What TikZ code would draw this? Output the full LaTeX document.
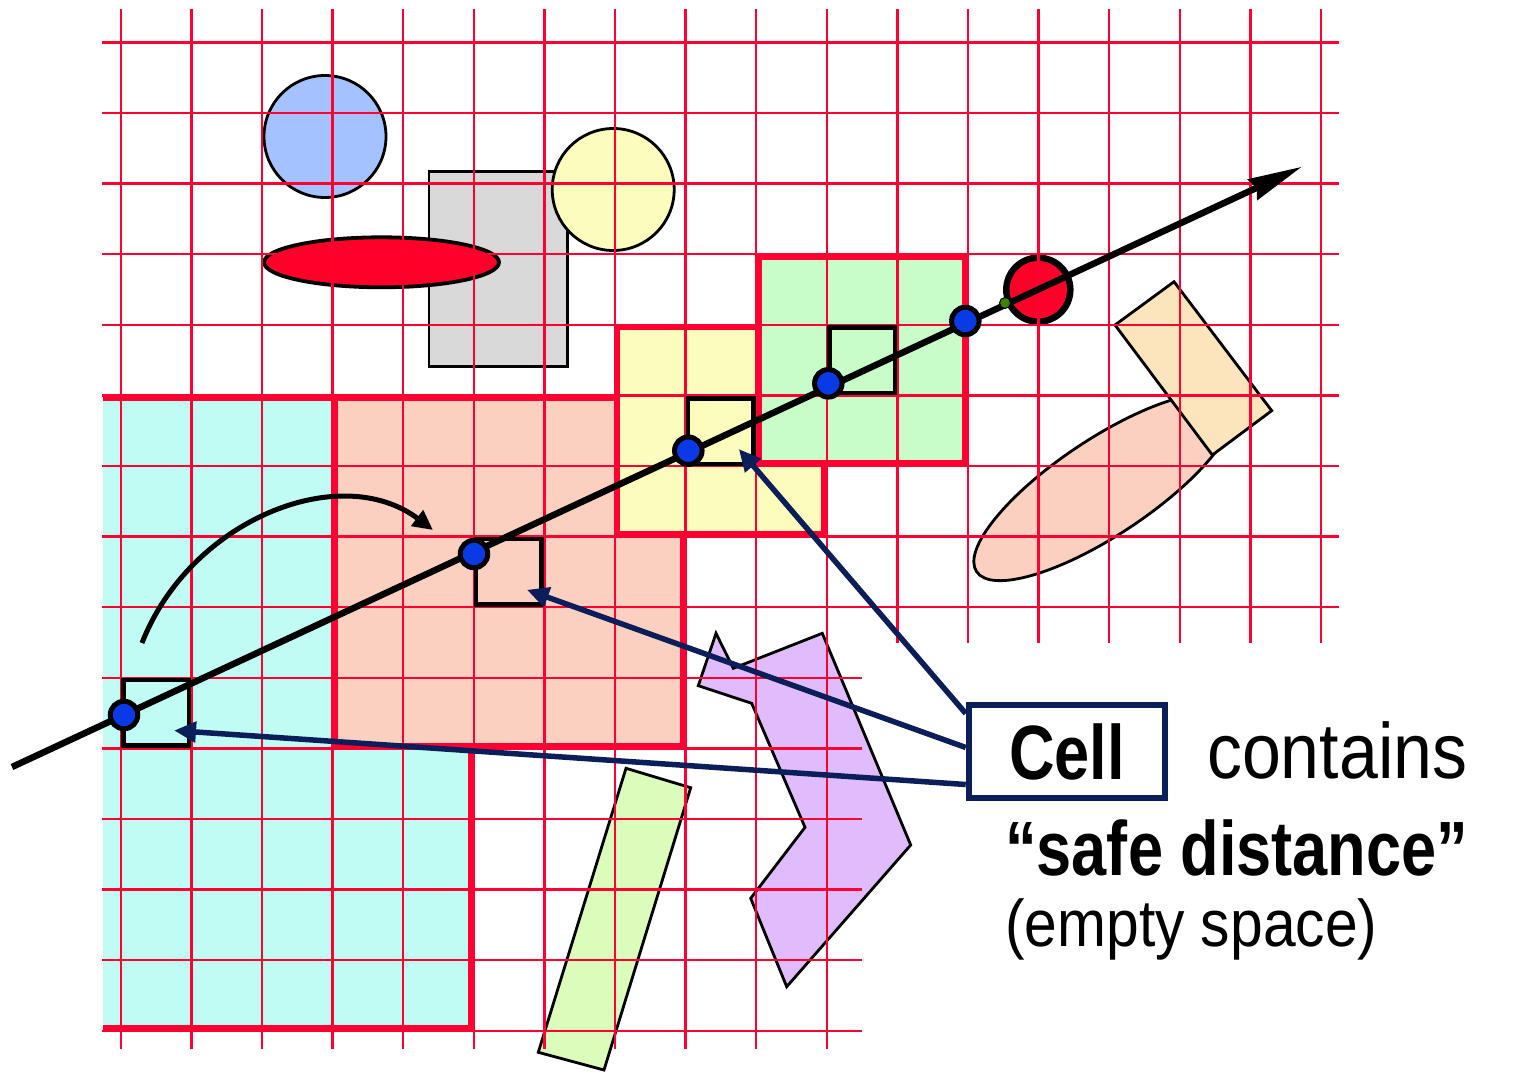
\documentclass[tikz,border=0pt]{standalone}
\usepackage{fontspec}
\usetikzlibrary{arrows.meta,calc}
\newfontfamily\labreg[FakeStretch=0.89]{Liberation Sans}
\newfontfamily\labbold[FakeStretch=0.82]{Liberation Sans}
\definecolor{gridred}{RGB}{255,0,51}
\definecolor{cyanC}{RGB}{192,252,244}
\definecolor{salmonC}{RGB}{252,208,192}
\definecolor{yellowC}{RGB}{252,252,188}
\definecolor{greenC}{RGB}{200,252,200}
\definecolor{blueC}{RGB}{164,194,255}
\definecolor{grayC}{RGB}{217,217,217}
\definecolor{redC}{RGB}{255,0,41}
\definecolor{peachC}{RGB}{252,228,188}
\definecolor{purpleC}{RGB}{224,188,252}
\definecolor{lgreenC}{RGB}{220,252,188}
\definecolor{hitblue}{RGB}{10,58,230}
\definecolor{navyC}{RGB}{12,30,90}
\definecolor{ptgreen}{RGB}{60,130,0}
\begin{document}
\begin{tikzpicture}[x=1pt,y=-1pt,
  gridline/.style={draw=gridred, line width=2.4pt},
  regionborder/.style={draw=gridred, line width=6pt},
  shapeline/.style={draw=black, line width=2.8pt},
  cellsq/.style={draw=black, line width=4.5pt, minimum size=65.5pt, inner sep=0pt},
  hitpt/.style={circle, draw=black, line width=5pt, fill=hitblue, minimum size=27.5pt, inner sep=0pt},
  navyarrow/.style={draw=navyC, line width=5.5pt, -{Triangle[length=22pt,width=20pt]}},
  regfont/.style={font={\labreg\fontsize{#1}{#1}\selectfont}},
  boldfont/.style={font={\labbold\bfseries\fontsize{#1}{#1}\selectfont}}
]
\useasboundingbox (0,0) rectangle (1514,1071);

% ---- regions ----
\fill[cyanC] (103,395.3) rectangle (473.7,1030.7);
\draw[regionborder] (103,397.8) -- (471.2,397.8) -- (471.2,1028.2) -- (103,1028.2);
\fill[salmonC] (332.5,395.3) rectangle (685.5,748.3);
\draw[regionborder] (335,397.8) rectangle (683,745.8);
\fill[yellowC] (614.9,324.7) rectangle (826.7,536.5);
\draw[regionborder] (617.4,327.2) rectangle (824.2,534);
\fill[greenC] (756.1,254.1) rectangle (967.9,465.9);
\draw[regionborder] (758.6,256.6) rectangle (965.4,463.4);

% ---- obstacles ----
\draw[shapeline, fill=grayC] (429,171.7) rectangle (567.3,366.7);
\draw[black, line width=3.8pt, fill=redC] (381.5,262.3) ellipse [x radius=117.5, y radius=25];
\draw[shapeline, fill=blueC] (325,136.5) circle [radius=61];
\draw[shapeline, fill=yellowC] (613.2,189.5) circle [radius=61];
\draw[shapeline, fill=salmonC, rotate around={33.6:(1104,487)}] (1104,487) ellipse [x radius=153, y radius=48];
\draw[shapeline, fill=peachC] (1174,281.7) -- (1271.7,410.7) -- (1212.3,455) -- (1115,325) -- cycle;
\draw[black, line width=6.5pt, fill=redC] (1038.3,289.7) circle [radius=32];
\draw[shapeline, fill=purpleC] (716,633.3) -- (733.3,668.3) -- (822.3,633.3) -- (910.7,845)
  -- (786.7,986.7) -- (750.7,898.3) -- (805,827.3) -- (751.7,703.3) -- (698.3,685.7) -- cycle;
\draw[shapeline, fill=lgreenC] (626,768.3) -- (690.7,787.7) -- (604,1070) -- (538.3,1052.3) -- cycle;

% ---- grid ----
\foreach \i in {0,...,17}{
  \pgfmathsetmacro\gx{120.7+70.6*\i}
  \ifnum\i<11
    \draw[gridline] (\gx,9) -- (\gx,1049);
  \else
    \draw[gridline] (\gx,9) -- (\gx,643);
  \fi
}
\foreach \j in {0,...,14}{
  \pgfmathsetmacro\gy{42.3+70.6*\j}
  \ifnum\j<9
    \draw[gridline] (102,\gy) -- (1339,\gy);
  \else
    \draw[gridline] (102,\gy) -- (862,\gy);
  \fi
}

% ---- visited cells ----
\node[cellsq] (sqA) at (156,712.5) {};
\node[cellsq] (sqB) at (508.9,571.8) {};
\node[cellsq] (sqD) at (720.8,431) {};
\node[cellsq] (sqC) at (862,360.3) {};

% ---- ray ----
\coordinate (rs) at (12,767);
\coordinate (re) at (1302,166.7);
\draw[black, line width=6.5pt, -{Stealth[length=54pt,width=22pt,inset=4pt]}] (rs) -- (re);

% ---- hit points ----
\node[hitpt] (pA) at (124,715) {};
\node[hitpt] (pB) at (474,554) {};
\node[hitpt] (pC) at (688.3,450.7) {};
\node[hitpt] (pD) at (828.3,383.3) {};
\node[hitpt] (pE) at (965.3,321) {};
\node[circle, draw=black, line width=1pt, fill=ptgreen, minimum size=11pt, inner sep=0pt] (pG) at (1005,303) {};

% ---- curved arrow ----
\coordinate (cs) at (142,643);
\coordinate (ce) at (433,530);
\draw[black, line width=5pt, -{Triangle[length=20pt,width=19pt]}] (cs) .. controls (190,520) and (340,460) .. (ce);

% ---- label ----
\node[draw=navyC, line width=6.5pt, fill=white, minimum width=196pt, minimum height=93pt, inner sep=0pt, boldfont=77] (cell) at (1067,751.5) {Cell};
\node[anchor=base west, inner sep=0pt, regfont=78.5] (contains) at (1207,778) {contains};
\node[anchor=base west, inner sep=0pt, boldfont=77] (safe) at (1005,875) {“safe distance”};
\node[anchor=base west, inner sep=0pt, regfont=66] (empty) at (1005,946) {(empty space)};

% ---- pointers ----
\draw[navyarrow] ([yshift=38pt]cell.west) -- ([xshift=18pt,yshift=-18pt]sqD.center);
\draw[navyarrow] ([yshift=4pt]cell.west) -- ([xshift=18pt,yshift=-18pt]sqB.center);
\draw[navyarrow] ([yshift=-33pt]cell.west) -- ([xshift=18pt,yshift=-18pt]sqA.center);
\end{tikzpicture}
\end{document}
